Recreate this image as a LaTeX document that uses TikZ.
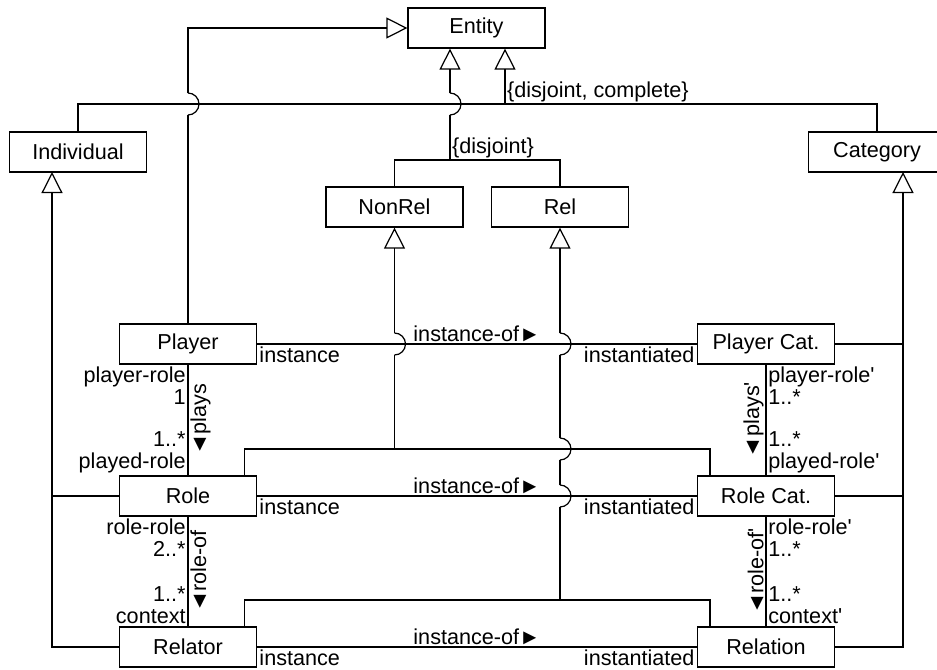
\documentclass[tikz,border=0pt]{standalone}
\usepackage{fontspec}
\setmainfont{Liberation Sans}
\usetikzlibrary{arrows.meta,calc}
\tikzset{
  cls/.style={draw,fill=white,line width=0.7pt,minimum width=27.4mm,
    minimum height=8mm,inner sep=0pt},
  gen/.style={-{Triangle[open,length=4.2mm,width=4.2mm]},line width=0.7pt},
  link/.style={line width=0.7pt},
  tag/.style={inner sep=1pt,align=left},
  % line jump
  pics/hop/.style={code={
    \fill[white] (-0.04,-0.22) rectangle (0.04,0.22);
    \draw[line width=0.7pt] (0,-0.22) arc[start angle=-90,end angle=90,radius=0.22];
  }},
}

\begin{document}
\begin{tikzpicture}[font=\fontsize{12.3}{12.5}\selectfont]
  \useasboundingbox (0,0) rectangle (18.74,-13.38);
  % classes
  \node[cls] (Entity) at (9.53,-0.56) {Entity};
  \node[cls] (Individual) at (1.56,-3.04) {Individual};
  \node[cls] (Category) at (17.54,-3.04) {Category};
  \node[cls] (NonRel) at (7.89,-4.14) {NonRel};
  \node[cls] (Rel) at (11.2,-4.14) {Rel};
  \node[cls] (Player) at (3.76,-6.88) {Player};
  \node[cls] (PlayerCat) at (15.32,-6.88) {Player Cat.};
  \node[cls] (Role) at (3.76,-9.92) {Role};
  \node[cls] (RoleCat) at (15.32,-9.92) {Role Cat.};
  \node[cls] (Relator) at (3.76,-12.94) {Relator};
  \node[cls] (Relation) at (15.32,-12.94) {Relation};
  % joints
  \coordinate (setA) at (10.1,-2.08);
  \coordinate (setB) at (9.0,-3.2);
  \coordinate (nrJ) at (NonRel.south |- 0,-8.98);
  \coordinate (rJ) at (Rel.south |- 0,-12.0);
  \coordinate (indB) at (1.04,-3.44);
  \coordinate (catB) at (18.06,-3.44);

  % vertical lines first, then the jumps
  \draw[gen] (Player.north) |- (Entity.west);
  \draw[gen] (setB) -- (setB |- Entity.south);
  \draw[gen] (nrJ) -- (NonRel.south);
  \draw[gen] (rJ) -- (Rel.south);
  \pic at (Player.north |- setA) {hop};
  \pic at (setB |- setA) {hop};
  \pic at (nrJ |- Player.east) {hop};
  \pic at (rJ |- Player.east) {hop};
  \pic at (rJ |- nrJ) {hop};
  \pic at (rJ |- Role.east) {hop};

  % generalization sets
  \draw[link] (Individual.north) |- (setA) -| (Category.north);
  \draw[gen] (setA) -- (setA |- Entity.south);
  \node[tag,anchor=south west] at (setA) {\{disjoint, complete\}};
  \draw[link] (NonRel.north) |- (setB) -| (Rel.north);
  \node[tag,anchor=south west] at (setB) {\{disjoint\}};
  \draw[link] ([xshift=-2.6mm]Role.north east) |- (nrJ) -| ([xshift=2.6mm]RoleCat.north west);
  \draw[link] ([xshift=-2.6mm]Relator.north east) |- (rJ) -| ([xshift=2.6mm]Relation.north west);
  \draw[gen] (Relator.west) -| (indB);
  \draw[link] (Role.west) -- (Role.west -| indB);
  \draw[gen] (Relation.east) -| (catB);
  \draw[link] (PlayerCat.east) -- (PlayerCat.east -| catB);
  \draw[link] (RoleCat.east) -- (RoleCat.east -| catB);

  % instance-of
  \draw[link] (Player.east) node[tag,anchor=north west] {instance}
    -- node[tag,above] {instance-of►} (PlayerCat.west) node[tag,anchor=north east] {instantiated};
  \draw[link] (Role.east) node[tag,anchor=north west] {instance}
    -- node[tag,above] {instance-of►} (RoleCat.west) node[tag,anchor=north east] {instantiated};
  \draw[link] (Relator.east) node[tag,anchor=north west] {instance}
    -- node[tag,above] {instance-of►} (Relation.west) node[tag,anchor=north east] {instantiated};

  % plays, role-of
  \draw[link] (Player.south) node[tag,anchor=north east,align=right] {player-role\\1}
    -- node[tag,rotate=90,anchor=north] {◄plays} (Role.north)
    node[tag,anchor=south east,align=right] {1..*\\played-role};
  \draw[link] (Role.south) node[tag,anchor=north east,align=right] {role-role\\2..*}
    -- node[tag,rotate=90,anchor=north] {◄role-of} (Relator.north)
    node[tag,anchor=south east,align=right] {1..*\\context};
  \draw[link] (PlayerCat.south) node[tag,anchor=north west] {player-role\textquotesingle\\1..*}
    -- node[tag,rotate=90,anchor=south] {◄plays\textquotesingle} (RoleCat.north)
    node[tag,anchor=south west] {1..*\\played-role\textquotesingle};
  \draw[link] (RoleCat.south) node[tag,anchor=north west] {role-role\textquotesingle\\1..*}
    -- node[tag,rotate=90,anchor=south] {◄role-of\textquotesingle} (Relation.north)
    node[tag,anchor=south west] {1..*\\context\textquotesingle};
\end{tikzpicture}
\end{document}
